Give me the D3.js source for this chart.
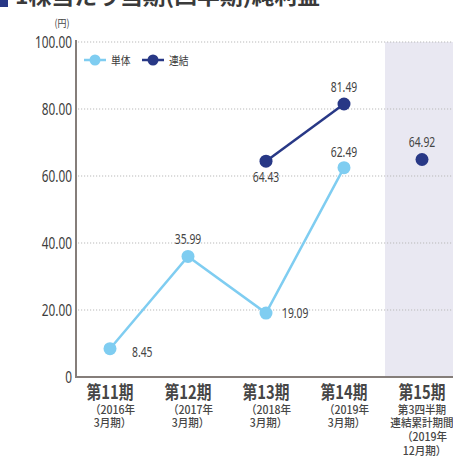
<!DOCTYPE html>
<html>
<head>
<meta charset="utf-8">
<script src="https://cdn.jsdelivr.net/npm/d3@7"></script>
<style>
  body { margin: 0; background: #fff; }
  svg { display: block; }
</style>
</head>
<body>
<script>
'use strict';

const categories = ['第11期', '第12期', '第13期', '第14期', '第15期']
const subLabels = [
  ['（2016年', '3月期）'],
  ['（2017年', '3月期）'],
  ['（2018年', '3月期）'],
  ['（2019年', '3月期）'],
  ['第3四半期', '連結累計期間', '（2019年', '12月期）']
]
const tandai = [8.45, 35.99, 19.09, 62.49]
const renketsu = [null, null, 64.43, 81.49]
const renketsuQ3 = 64.92
const yTicks = [0, 20, 40, 60, 80, 100]

const m = { width: 453, height: 457, left: 71, right: 461, top: 42, bottom: 377 }
const cjk = '"Noto Sans CJK JP", "Noto Sans", sans-serif'
const num = '"Noto Sans", "Open Sans", sans-serif'
const lightBlue = '#7fcdf1'
const navy = '#283886'

const svg = d3.select('body').append('svg')
  .attr('width', m.width)
  .attr('height', m.height)

const x = d3.scaleBand().domain(categories).range([m.left, m.right])
const cx = (c) => x(c) + x.bandwidth() / 2
const y = d3.scaleLinear().domain([0, 100]).range([m.bottom, m.top])

// shaded quarter area
svg.append('rect')
  .attr('x', x('第15期') + 2)
  .attr('y', y(100))
  .attr('width', m.width - x('第15期'))
  .attr('height', y(0) - y(100))
  .style('fill', '#e9e8f2')

// grid
svg.selectAll('.grid')
  .data(yTicks.filter((d) => d > 0))
  .enter().append('line')
  .attr('x1', 78).attr('x2', m.width)
  .attr('y1', (d) => y(d)).attr('y2', (d) => y(d))
  .style('stroke', '#b9b9b9')
  .style('stroke-width', 1)
  .style('stroke-dasharray', '1.2,1.8')

// text helper: squeezed horizontally like a condensed face
function squeezeText(px, py, str, opts) {
  return svg.append('text')
    .attr('transform', 'translate(' + px + ',' + py + ') scale(' + opts.sx + ',1)')
    .attr('text-anchor', opts.anchor || 'middle')
    .style('font-family', opts.family || cjk)
    .style('font-size', opts.size + 'px')
    .style('font-weight', opts.weight || 400)
    .style('fill', opts.fill || '#3a3a3a')
    .text(str)
}

// y axis labels
let yAxis = d3.axisLeft(y).tickValues(yTicks).tickSize(0)
  .tickFormat((d) => d == 0 ? '0' : d3.format('.2f')(d))
svg.append('g')
  .attr('transform', 'translate(76,0)')
  .call(yAxis)
  .call((g) => g.select('.domain').remove())
  .call((g) => g.selectAll('.tick text')
    .attr('x', null).attr('dy', null)
    .attr('transform', 'translate(-4,5.5) scale(0.74,1)')
    .style('font-family', num)
    .style('font-size', '16px')
    .style('fill', '#3c3c3c'))

svg.append('path')
  .attr('d', 'M76,' + (y(100) - 2) + 'V' + y(0) + 'H' + m.width)
  .style('fill', 'none')
  .style('stroke', '#857e7a')
  .style('stroke-width', 2)

squeezeText(62, 27, '(円)', { sx: 0.85, size: 10.5, fill: '#444' })

// x labels (full-width brackets carry empty space on one side, so nudge them)
categories.forEach((c, i) => {
  squeezeText(cx(c), 399, c, { sx: 0.82, size: 18, weight: 700, fill: '#464646' })
  subLabels[i].forEach((s, j) => {
    let nudge = s.startsWith('（') ? 2.5 : (s.endsWith('）') ? 2.5 : 0)
    squeezeText(cx(c) + nudge, 413.5 + j * 13.9, s, { sx: 0.92, size: 11.5, weight: 500, fill: '#464646' })
  })
})

// lines
let line = d3.line()
  .defined((d) => d.v != null)
  .x((d) => cx(d.c))
  .y((d) => y(d.v))

const tandaiPts = tandai.map((v, i) => ({ c: categories[i], v: v }))
const renketsuPts = renketsu.map((v, i) => ({ c: categories[i], v: v }))

svg.append('path')
  .datum(tandaiPts)
  .attr('d', line)
  .style('fill', 'none')
  .style('stroke', lightBlue)
  .style('stroke-width', 2.5)

svg.append('path')
  .datum(renketsuPts)
  .attr('d', line)
  .style('fill', 'none')
  .style('stroke', navy)
  .style('stroke-width', 2.5)

svg.selectAll('.pt-t')
  .data(tandaiPts)
  .enter().append('circle')
  .attr('cx', (d) => cx(d.c))
  .attr('cy', (d) => y(d.v))
  .attr('r', 6.5)
  .style('fill', lightBlue)

const navyPts = renketsuPts.filter((d) => d.v != null).concat([{ c: '第15期', v: renketsuQ3 }])
svg.selectAll('.pt-r')
  .data(navyPts)
  .enter().append('circle')
  .attr('cx', (d) => cx(d.c))
  .attr('cy', (d) => y(d.v))
  .attr('r', 6.5)
  .style('fill', navy)

// value labels
const tandaiPlace = [[22, 8, 'start'], [0, -12, 'middle'], [16, 5, 'start'], [0, -11, 'middle']]
const navyPlace = [[0, 21, 'middle'], [0, -12, 'middle'], [0, -13, 'middle']]

function valueLabels(pts, place) {
  pts.forEach((d, i) => {
    squeezeText(cx(d.c) + place[i][0], y(d.v) + place[i][1], d3.format('.2f')(d.v),
      { sx: 0.74, size: 14, anchor: place[i][2], family: num, fill: '#444' })
  })
}
valueLabels(tandaiPts, tandaiPlace)
valueLabels(navyPts, navyPlace)

// legend
function legendItem(lx, color, label) {
  svg.append('line')
    .attr('x1', lx - 11).attr('x2', lx + 11)
    .attr('y1', 60).attr('y2', 60)
    .style('stroke', color)
    .style('stroke-width', 2.5)
  svg.append('circle')
    .attr('cx', lx).attr('cy', 60).attr('r', 5.5)
    .style('fill', color)
  squeezeText(lx + 16, 64.5, label, { sx: 0.85, size: 11.5, anchor: 'start' })
}
legendItem(95, lightBlue, '単体')
legendItem(153, navy, '連結')

// title (cut at top)
svg.append('rect')
  .attr('x', 0).attr('y', -4)
  .attr('width', 8).attr('height', 11)
  .style('fill', '#283886')
svg.append('text')
  .attr('x', 15).attr('y', 4)
  .attr('textLength', 305)
  .attr('lengthAdjust', 'spacingAndGlyphs')
  .style('font-family', cjk)
  .style('font-size', '21px')
  .style('font-weight', 700)
  .style('fill', '#3a3a3a')
  .text('1株当たり当期(四半期)純利益')
</script>
</body>
</html>
